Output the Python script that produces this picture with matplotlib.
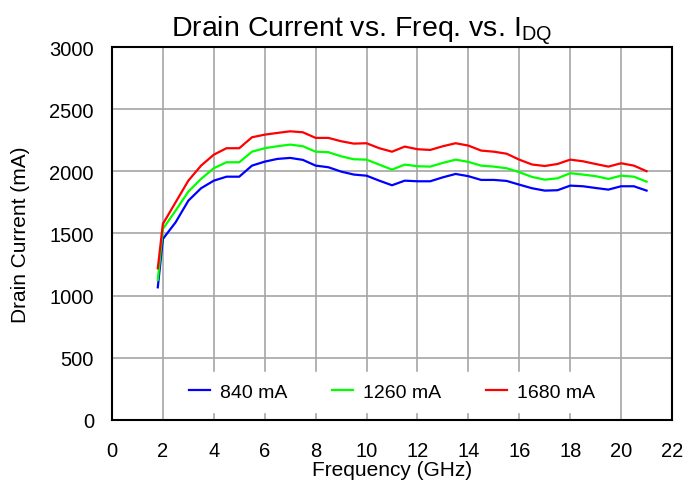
import numpy as np
import matplotlib
matplotlib.use("Agg")
import matplotlib.pyplot as plt

plt.rcParams['font.family'] = ['Liberation Sans', 'DejaVu Sans']
plt.rcParams['mathtext.fontset'] = 'custom'
plt.rcParams['mathtext.rm'] = 'Liberation Sans'

# frequency points (GHz)
freq = [1.8, 2.0, 2.5, 3.0, 3.5, 4.0, 4.5, 5.0, 5.5, 6.0, 6.5, 7.0, 7.5, 8.0, 8.5,
        9.0, 9.5, 10.0, 10.5, 11.0, 11.5, 12.0, 12.5, 13.0, 13.5, 14.0, 14.5, 15.0,
        15.5, 16.0, 16.5, 17.0, 17.5, 18.0, 18.5, 19.0, 19.5, 20.0, 20.5, 21.0]

# drain current (mA) for each quiescent current
id_840 = [1067, 1456, 1590, 1764, 1864, 1925, 1957, 1957, 2046, 2078, 2100, 2108, 2092,
          2046, 2033, 1998, 1974, 1965, 1925, 1888, 1925, 1920, 1920, 1952, 1979, 1961,
          1931, 1931, 1923, 1893, 1864, 1845, 1848, 1885, 1880, 1866, 1853, 1880, 1880, 1845]
id_1260 = [1126, 1537, 1684, 1837, 1939, 2025, 2073, 2073, 2158, 2186, 2202, 2215, 2202,
           2158, 2154, 2121, 2097, 2094, 2054, 2014, 2054, 2041, 2038, 2068, 2094, 2076,
           2046, 2038, 2025, 1993, 1955, 1933, 1944, 1985, 1974, 1961, 1939, 1965, 1957, 1917]
id_1680 = [1220, 1577, 1751, 1925, 2046, 2134, 2186, 2186, 2274, 2295, 2309, 2322, 2314,
           2269, 2269, 2242, 2223, 2226, 2186, 2158, 2199, 2178, 2172, 2202, 2226, 2207,
           2167, 2158, 2142, 2094, 2055, 2043, 2059, 2094, 2081, 2059, 2038, 2065, 2046, 2001]

labels = ['840 mA', '1260 mA', '1680 mA']
colors = ['#0000ff', '#00ff00', '#ff0000']

fig = plt.figure(figsize=(6.84, 4.85), dpi=100)
ax = fig.add_axes([0.1637, 0.132, 0.8188, 0.769])

for y, lab, c in zip([id_840, id_1260, id_1680], labels, colors):
    ax.plot(freq, y, color=c, lw=1.6, label=lab)

ax.set_xlim(0, 22)
ax.set_ylim(0, 3000)
ax.set_xticks(np.arange(0, 23, 2))
ax.set_yticks(np.arange(0, 3001, 500))
ax.grid(True, color='#a6a6a6', lw=1.2)
ax.set_axisbelow(True)
ax.tick_params(length=0, labelsize=14.5)
ax.tick_params(axis='x', pad=15)
ax.tick_params(axis='y', pad=13)
for s in ax.spines.values():
    s.set_linewidth(1.5)
    s.set_color('black')

ax.set_title('Drain Current vs. Freq. vs. I$_{\\mathrm{DQ}}$', fontsize=20.5, pad=7, x=0.445)
ax.set_xlabel('Frequency (GHz)', fontsize=15, labelpad=0)
ax.set_ylabel('Drain Current (mA)', fontsize=15, labelpad=14)

leg = ax.legend(loc='center', bbox_to_anchor=(0.5, 0.075), ncol=3,
                fontsize=14, frameon=True, fancybox=False, handlelength=1.1,
                handletextpad=0.5, columnspacing=2.3, borderpad=0.6)
leg.get_frame().set_facecolor('white')
leg.get_frame().set_edgecolor('white')
leg.get_frame().set_alpha(1)

fig.savefig('out.png', dpi=100)
